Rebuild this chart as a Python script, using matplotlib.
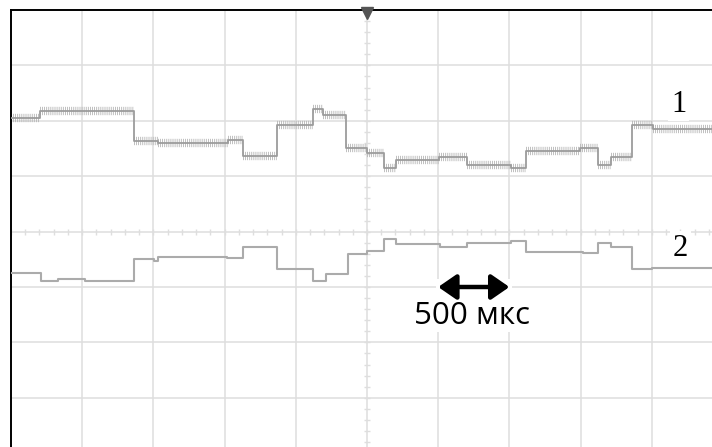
import numpy as np
import matplotlib.pyplot as plt
from matplotlib import transforms
from matplotlib.patches import Rectangle

plt.rcParams["lines.scale_dashes"] = False

# ── Data (screen divisions: x 0..10, y 0..8) ─────────────────────────────────

# channel 1: step start times and levels
ch1_t = [0.00, 0.41, 1.73, 2.06, 3.05, 3.26, 3.74, 4.24, 4.38, 4.70, 5.00,
         5.24, 5.41, 6.01, 6.40, 7.02, 7.24, 7.99, 8.24, 8.43, 8.72, 9.02]
ch1_v = [6.05, 6.18, 5.64, 5.60, 5.65, 5.36, 5.92, 6.21, 6.10, 5.51, 5.42,
         5.15, 5.29, 5.35, 5.20, 5.15, 5.45, 5.51, 5.20, 5.35, 5.92, 5.85]

# channel 2
ch2_t = [0.00, 0.42, 0.66, 1.04, 1.73, 2.01, 2.06, 3.03, 3.26, 3.74, 4.24,
         4.42, 4.74, 5.00, 5.24, 5.41, 6.02, 6.40, 7.02, 7.24, 8.04, 8.24,
         8.43, 8.72, 9.00]
ch2_v = [3.25, 3.11, 3.14, 3.11, 3.51, 3.47, 3.54, 3.52, 3.72, 3.32, 3.11,
         3.23, 3.60, 3.65, 3.87, 3.78, 3.72, 3.79, 3.83, 3.63, 3.61, 3.79,
         3.72, 3.32, 3.34]

T_END = 10.0
N_XDIV, N_YDIV = 10, 8
scale_label = "500 мкс"
scale_span = (6.0, 7.0)
scale_y = 3.0

GRID = "#dedede"
TRACE = "#9c9c9c"


def steps(t, v):
    return list(t) + [T_END], list(v) + [v[-1]]


# ── Figure ───────────────────────────────────────────────────────────────────

fig = plt.figure(figsize=(7.12, 4.47), dpi=100)
ax = fig.add_axes([11 / 712, 1 - 453.2 / 447, 1.0, 443.2 / 447])
ax.set_xlim(0, N_XDIV)
ax.set_ylim(0, N_YDIV)
ax.set_xticks([])
ax.set_yticks([])
for s in ("right", "bottom"):
    ax.spines[s].set_visible(False)
for s in ("top", "left"):
    ax.spines[s].set_color("black")
    ax.spines[s].set_linewidth(1.4)

# graticule
for x in range(1, N_XDIV):
    ax.axvline(x, color=GRID, lw=1.1, zorder=0)
for y in range(1, N_YDIV):
    ax.axhline(y, color=GRID, lw=1.1, zorder=0)

# minor ticks on the centre lines
cx, cy = N_XDIV / 2, N_YDIV / 2
mx = np.arange(0, N_XDIV + 0.01, 0.2)
my = np.arange(0, N_YDIV + 0.01, 0.2)
ax.vlines(mx, cy - 0.055, cy + 0.055, color=GRID, lw=1.0, zorder=0)
ax.hlines(my, cx - 0.045, cx + 0.045, color=GRID, lw=1.0, zorder=0)

# traces
x1, y1 = steps(ch1_t, ch1_v)
ends1 = list(ch1_t[1:]) + [T_END]
ax.hlines(ch1_v, ch1_t, ends1, color="#b4b4b4", lw=6,
          linestyles=[(0, (0.6, 0.9))], zorder=2)
ax.plot(x1, y1, drawstyle="steps-post", color=TRACE, lw=1.3, zorder=3)

x2, y2 = steps(ch2_t, ch2_v)
ax.plot(x2, y2, drawstyle="steps-post", color="#ababab", lw=1.5, zorder=3)

# channel labels
for lbl, (lx, ly) in (("1", (9.38, 6.30)), ("2", (9.40, 3.70))):
    ax.text(lx, ly, lbl, fontsize=22, family="Liberation Serif",
            ha="center", va="center", zorder=4,
            bbox=dict(facecolor="white", edgecolor="none", pad=2))

# time scale arrow
ax.add_patch(Rectangle((scale_span[0] - 0.03, 2.2), 1.06, 0.95,
                       facecolor="white", edgecolor="none", zorder=1))
ax.annotate("", xy=(scale_span[1], scale_y), xytext=(scale_span[0], scale_y),
            arrowprops=dict(arrowstyle="<|-|>,head_length=0.55,head_width=0.38",
                            lw=3.2, color="black", shrinkA=0, shrinkB=0,
                            mutation_scale=20), zorder=5)
ax.text(sum(scale_span) / 2 - 0.02, 2.48, scale_label, fontsize=22.5,
        family=["Open Sans", "DejaVu Sans"], ha="center", va="center",
        zorder=5, bbox=dict(facecolor="white", edgecolor="none", pad=1))

# trigger marker
trans = transforms.offset_copy(ax.transData, fig=fig, y=-3, units="dots")
ax.plot([cx], [N_YDIV], marker="v", ms=9, color="#555555", transform=trans,
        clip_on=False, zorder=6)

fig.savefig("out.png", dpi=100)
